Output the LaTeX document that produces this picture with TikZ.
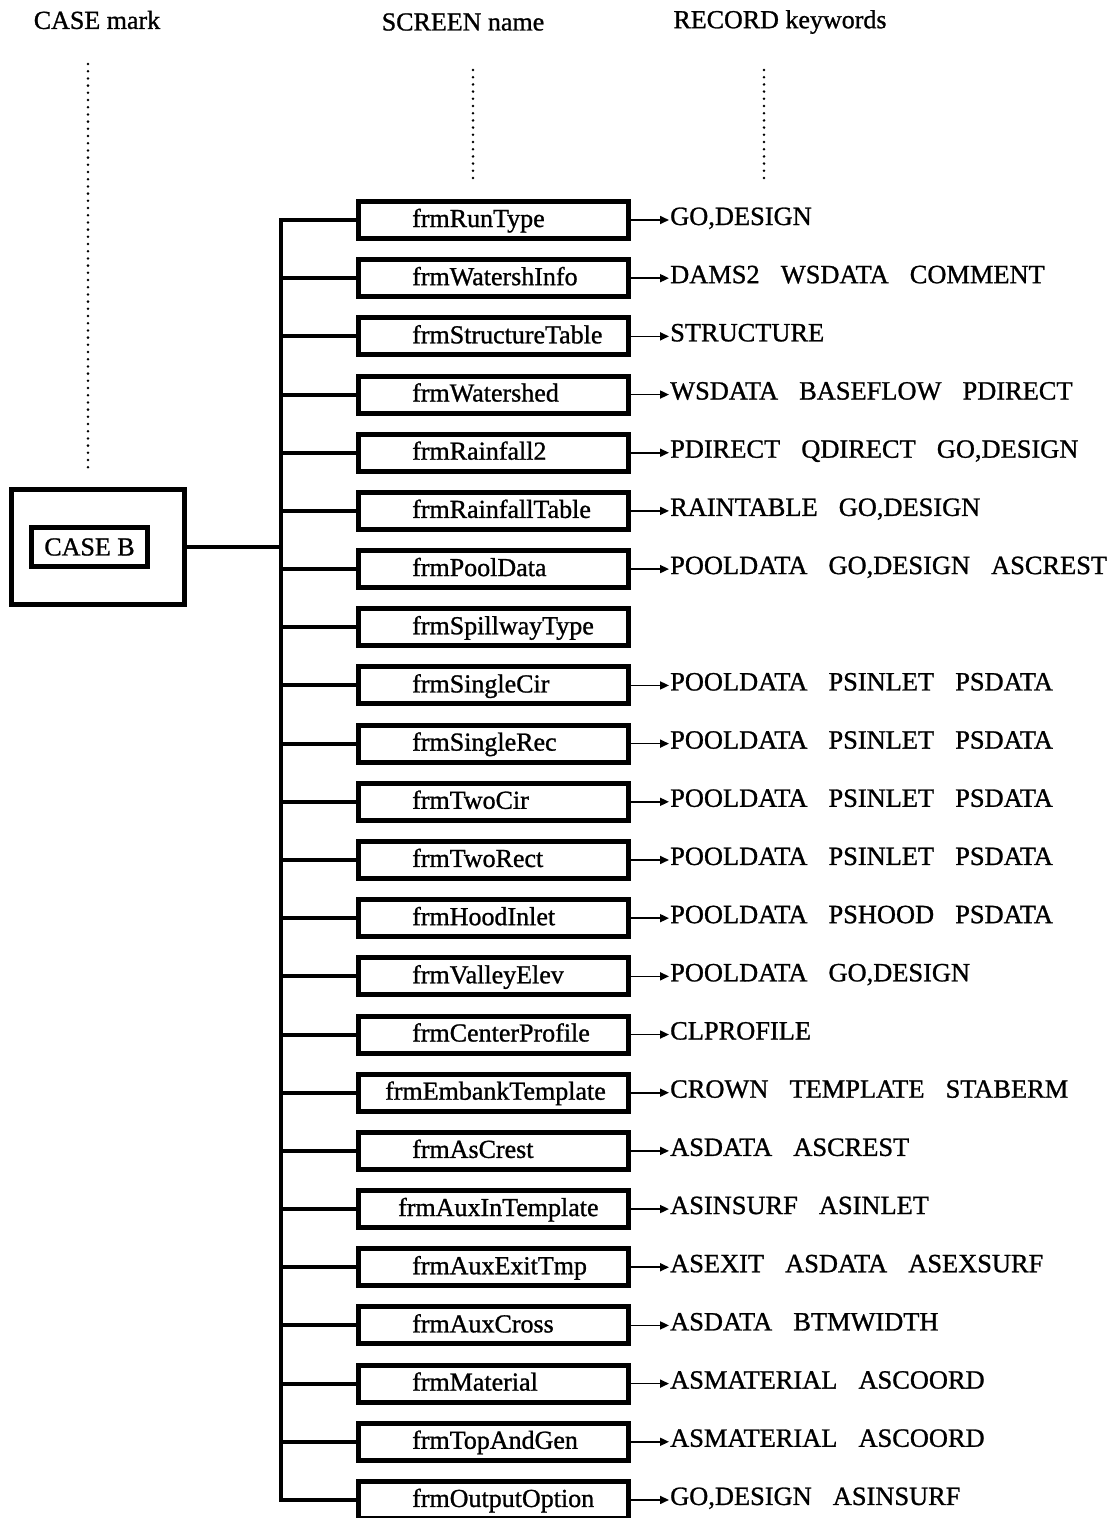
\documentclass[tikz,border=0pt]{standalone}
\usepackage{fontspec}
\setmainfont{Liberation Serif}[FakeBold=1]
\usetikzlibrary{arrows.meta}
\newcommand\kwsp{\hspace{0.8em}}
\begin{document}
\begin{tikzpicture}[x=1pt,y=-1pt,
  txt/.style={font=\fontsize{26}{30}\selectfont},
  scr/.style={draw, line width=5pt, minimum width=270pt, minimum height=37pt, inner sep=0pt},
  stxt/.style={txt, anchor=base west, inner sep=0pt},
  kw/.style={font=\fontsize{26.4}{30}\selectfont, anchor=base west, inner sep=0pt},
  dots/.style={line width=2.8pt, dash pattern=on 0pt off 7.2pt, line cap=round},
  wire/.style={line width=4pt, line cap=rect},
  arr/.style={line width=1.7pt, -{Triangle[length=9pt,width=8pt]}, shorten >=1pt}]
\useasboundingbox (0,0) rectangle (1111,1518);
\fill[white] (0,0) rectangle (1111,1518);

% headers
\node[txt] (h1) at (97,20) {CASE mark};
\node[txt] (h2) at (463,22) {SCREEN name};
\node[txt] (h3) at (780,22) {RECORD keywords};
\coordinate (d1a) at (88,64);  \coordinate (d1b) at (88,470);
\coordinate (d2a) at (473,70); \coordinate (d2b) at (473,180);
\coordinate (d3a) at (764,70); \coordinate (d3b) at (764,180);
\draw[dots] (d1a) -- (d1b);
\draw[dots] (d2a) -- (d2b);
\draw[dots] (d3a) -- (d3b);

% case box
\node[draw, line width=5pt, minimum width=173pt, minimum height=115pt, inner sep=0pt] (outer) at (98,547) {};
\node[txt, draw, line width=5pt, minimum width=116pt, minimum height=39pt, inner sep=0pt] (caseb) at (89.5,547) {CASE B};

\coordinate (sp) at (281,220);

% screen boxes
\foreach \t/\x [count=\i] in {frmRunType/412,frmWatershInfo/412,frmStructureTable/412,frmWatershed/412,frmRainfall2/412,frmRainfallTable/412,frmPoolData/412,frmSpillwayType/412,frmSingleCir/412,frmSingleRec/412,frmTwoCir/412,frmTwoRect/412,frmHoodInlet/412,frmValleyElev/412,frmCenterProfile/412,frmEmbankTemplate/385,frmAsCrest/412,frmAuxInTemplate/398,frmAuxExitTmp/412,frmAuxCross/412,frmMaterial/412,frmTopAndGen/412,frmOutputOption/412}
{
  \node[scr] (s\i) at (493.5,{220+(\i-1)*58.18}) {};
  \node[stxt] (t\i) at (\x,{227+(\i-1)*58.18}) {\t};
}

% spine and branches
\draw[wire] (s1.west -| sp) -- (s23.west -| sp);
\foreach \i in {1,...,23}
  \draw[wire] (s\i.west -| sp) -- (s\i.west);
\draw[wire] (outer.east) -- (outer.east -| sp);

% keywords
\foreach \i in {1,...,23}
  \coordinate (kp\i) at (670,{225+(\i-1)*58.18});
\node[kw] (k1) at (kp1) {GO,DESIGN};
\node[kw] (k2) at (kp2) {DAMS2\kwsp WSDATA\kwsp COMMENT};
\node[kw] (k3) at (kp3) {STRUCTURE};
\node[kw] (k4) at (kp4) {WSDATA\kwsp BASEFLOW\kwsp PDIRECT};
\node[kw] (k5) at (kp5) {PDIRECT\kwsp QDIRECT\kwsp GO,DESIGN};
\node[kw] (k6) at (kp6) {RAINTABLE\kwsp GO,DESIGN};
\node[kw] (k7) at (kp7) {POOLDATA\kwsp GO,DESIGN\kwsp ASCREST};
\node[kw] (k9) at (kp9) {POOLDATA\kwsp PSINLET\kwsp PSDATA};
\node[kw] (k10) at (kp10) {POOLDATA\kwsp PSINLET\kwsp PSDATA};
\node[kw] (k11) at (kp11) {POOLDATA\kwsp PSINLET\kwsp PSDATA};
\node[kw] (k12) at (kp12) {POOLDATA\kwsp PSINLET\kwsp PSDATA};
\node[kw] (k13) at (kp13) {POOLDATA\kwsp PSHOOD\kwsp PSDATA};
\node[kw] (k14) at (kp14) {POOLDATA\kwsp GO,DESIGN};
\node[kw] (k15) at (kp15) {CLPROFILE};
\node[kw] (k16) at (kp16) {CROWN\kwsp TEMPLATE\kwsp STABERM};
\node[kw] (k17) at (kp17) {ASDATA\kwsp ASCREST};
\node[kw] (k18) at (kp18) {ASINSURF\kwsp ASINLET};
\node[kw] (k19) at (kp19) {ASEXIT\kwsp ASDATA\kwsp ASEXSURF};
\node[kw] (k20) at (kp20) {ASDATA\kwsp BTMWIDTH};
\node[kw] (k21) at (kp21) {ASMATERIAL\kwsp ASCOORD};
\node[kw] (k22) at (kp22) {ASMATERIAL\kwsp ASCOORD};
\node[kw] (k23) at (kp23) {GO,DESIGN\kwsp ASINSURF};

\foreach \i in {1,2,3,4,5,6,7,9,10,11,12,13,14,15,16,17,18,19,20,21,22,23}
  \draw[arr] (s\i.east) -- (s\i.east -| k\i.west);
\end{tikzpicture}
\end{document}
